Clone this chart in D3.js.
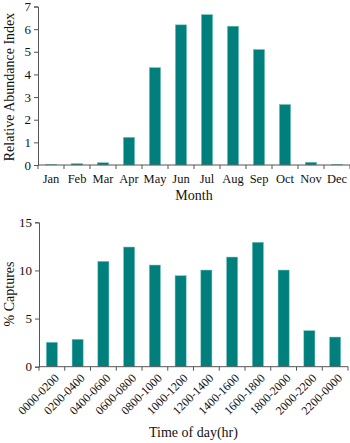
<!DOCTYPE html>
<html><head><meta charset="utf-8">
<script src="https://cdn.jsdelivr.net/npm/d3@7"></script>
<style>
body{margin:0;background:#fff;}
svg{display:block;font-family:"Liberation Serif","Times New Roman",serif;}
</style></head>
<body><svg id="c" width="350" height="443"></svg>
<script>
const months = ["Jan","Feb","Mar","Apr","May","Jun","Jul","Aug","Sep","Oct","Nov","Dec"];
const abundance = [0.02,0.06,0.1,1.22,4.3,6.19,6.64,6.13,5.1,2.67,0.12,0.02];
const monthTicks = [0,1,2,3,4,5,6,7];
const periods = ["0000-0200","0200-0400","0400-0600","0600-0800","0800-1000","1000-1200","1200-1400","1400-1600","1600-1800","1800-2000","2000-2200","2200-0000"];
const captures = [2.53,2.84,10.94,12.43,10.56,9.45,10.04,11.39,12.92,10.04,3.74,3.08];
const captureTicks = [0,5,10,15];

const svg = d3.select("#c");
const barColor = "#007f7c", axisColor = "#555";

function panel(cats, vals, ticks, ymax, x0, x1, y0, y1, ylab, xlab, rotate, xlabY, ylabY) {
  const x = d3.scaleBand().domain(cats).range([x0, x1]).paddingInner(0.57).paddingOuter(0.285);
  const y = d3.scaleLinear().domain([0, ymax]).range([y0, y1]);
  const g = svg.append("g");
  g.selectAll("rect.bar").data(vals).join("rect")
    .attr("x", (d,i) => x(cats[i])).attr("width", x.bandwidth())
    .attr("y", d => y(d)).attr("height", d => y0 - y(d))
    .attr("fill", barColor).attr("stroke", "#6fc2bd").attr("stroke-width", 0.5);
  const ya = g.append("g").attr("transform", `translate(${x0},0)`)
    .call(d3.axisLeft(y).tickValues(ticks).tickSize(4).tickPadding(3).tickFormat(d3.format("d")));
  ya.select(".domain").attr("stroke", axisColor);
  ya.selectAll("line").attr("stroke", axisColor);
  ya.selectAll("text").attr("font-size", 13).attr("font-family", "Liberation Serif").attr("fill", "#111");
  const xa = g.append("g").attr("transform", `translate(0,${y0})`);
  xa.append("line").attr("x1", x0).attr("x2", x1).attr("stroke", axisColor);
  const step = x.step();
  xa.selectAll("line.t").data(d3.range(cats.length + 1)).join("line")
    .attr("x1", i => x0 + i * step).attr("x2", i => x0 + i * step)
    .attr("y1", 0).attr("y2", 4).attr("stroke", axisColor);
  const labs = xa.selectAll("text.l").data(cats).join("text")
    .attr("fill", "#111").attr("font-family", "Liberation Serif");
  if (rotate) {
    labs.attr("font-size", 12).attr("text-anchor", "end")
      .attr("transform", d => `translate(${x(d) + x.bandwidth()/2 + 5},${9}) rotate(-45)`)
      .attr("dy", "0.35em").text(d => d);
  } else {
    labs.attr("font-size", 12.5).attr("text-anchor", "middle").attr("x", d => x(d) + x.bandwidth()/2)
      .attr("y", 18).text(d => d);
  }
  svg.append("text").attr("x", (x0 + x1) / 2).attr("y", xlabY).attr("text-anchor", "middle")
    .attr("font-size", 14).attr("fill", "#111").text(xlab);
  svg.append("text").attr("transform", `translate(14,${ylabY}) rotate(-90)`).attr("text-anchor", "middle")
    .attr("font-size", 14).attr("fill", "#111").text(ylab);
}

panel(months, abundance, monthTicks, 7, 38, 350, 165, 6.5, "Relative Abundance Index", "Month", false, 200, 87);
panel(periods, captures, captureTicks, 15, 39, 348, 366.7, 222.3, "% Captures", "Time of day(hr)", true, 437, 294);
</script></body></html>
